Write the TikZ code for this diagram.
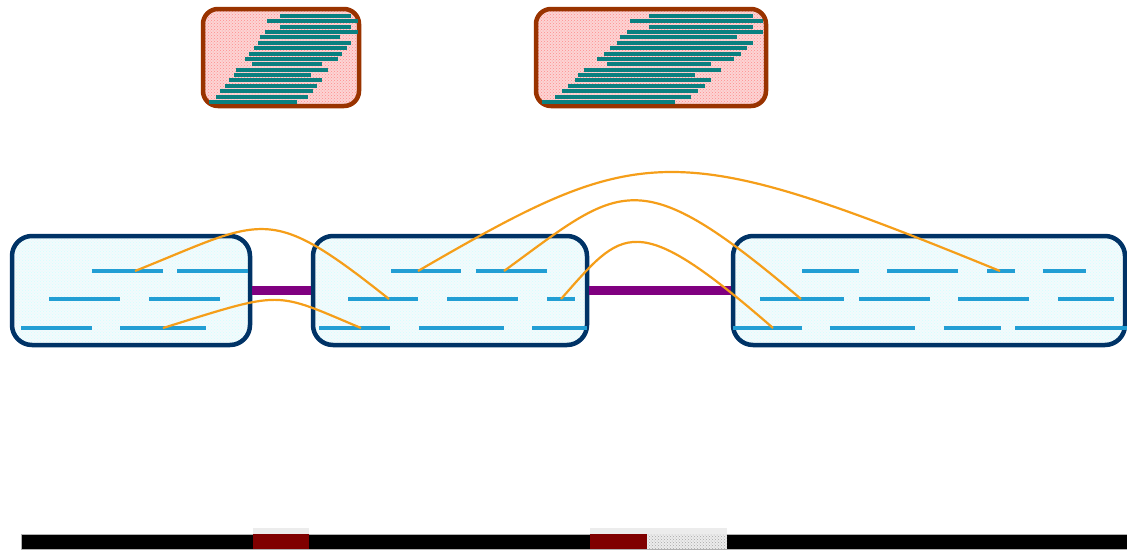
\documentclass[tikz,border=0pt]{standalone}
\usepackage{tikz}
\usetikzlibrary{patterns}

\definecolor{pilebrown}{RGB}{153,51,0}
\definecolor{pilepink}{RGB}{252,212,212}
\definecolor{readteal}{RGB}{10,128,128}
\definecolor{contigblue}{RGB}{0,51,102}
\definecolor{contigfill}{RGB}{243,250,252}
\definecolor{readblue}{RGB}{34,158,212}
\definecolor{linkpurple}{RGB}{128,0,128}
\definecolor{pairorange}{RGB}{245,158,25}
\definecolor{gapred}{RGB}{128,0,0}

\begin{document}
\begin{tikzpicture}[x=1pt,y=-1pt,
    pile/.style={draw=pilebrown, line width=4.5pt, rounded corners=15pt, preaction={fill=pilepink},
      pattern=crosshatch dots, pattern color=red!45, inner sep=0pt},
    contig/.style={draw=contigblue, line width=4.5pt, rounded corners=20pt, preaction={fill=contigfill},
      pattern=crosshatch dots, pattern color=cyan!18, inner sep=0pt},
    pileread/.style={draw=readteal, line width=4pt},
    read/.style={draw=readblue, line width=3.2pt},
    link/.style={draw=linkpurple, line width=9pt},
    pair/.style={draw=pairorange, line width=2.2pt}
  ]
  \useasboundingbox (0,0) rectangle (1127,550);

  % read piles
  \node[pile, minimum width=156pt, minimum height=97pt] (pileA) at (281,57.5) {};
  \node[pile, minimum width=230pt, minimum height=97pt] (pileB) at (651,57.5) {};
  \foreach \a/\b [count=\i] in {280/351,267/358,280/351,265/358,260/340,258/351,254/347,
      249/342,245/338,252/322,236/328,234/311,229/322,225/317,220/313,216/308,209/297}
    \draw[pileread] (\a,10.6+5.375*\i) -- (\b,10.6+5.375*\i);
  \foreach \a/\b [count=\i] in {649/753,630/763,649/753,627/763,620/737,617/753,610/747,
      604/741,597/734,607/711,584/721,578/695,575/711,568/705,562/698,555/691,542/675}
    \draw[pileread] (\a,10.6+5.375*\i) -- (\b,10.6+5.375*\i);

  % contigs
  \node[contig, minimum width=238pt, minimum height=109pt] (ctgA) at (131,290.5) {};
  \node[contig, minimum width=274pt, minimum height=109pt] (ctgB) at (450,290.5) {};
  \node[contig, minimum width=392pt, minimum height=109pt] (ctgC) at (929,290.5) {};

  % scaffold links
  \draw[link] (ctgA.east) -- (ctgB.west);
  \draw[link] (ctgB.east) -- (ctgC.west);

  % reads in the contigs
  \foreach \a/\b/\r in {92/163/271,177/248/271,49/120/299,149/220/299,21/92/328,120/206/328,
      391/461/271,476/547/271,348/418/299,447/518/299,547/575/299,319/390/328,419/504/328,532/587/328,
      802/859/271,887/958/271,987/1015/271,1043/1086/271,760/844/299,859/930/299,958/1029/299,
      1058/1114/299,733/802/328,830/915/328,944/1001/328,1015/1127/328}
    \draw[read] (\a,\r) -- (\b,\r);

  % mate pairs
  \coordinate (pA1) at (135,271);
  \coordinate (pA2) at (163,328);
  \coordinate (pB1) at (389,299);
  \coordinate (pB2) at (361,328);
  \coordinate (pB3) at (418,271);
  \coordinate (pB4) at (504,271);
  \coordinate (pB5) at (561,299);
  \coordinate (pC1) at (1000,271);
  \coordinate (pC2) at (801,299);
  \coordinate (pC3) at (773,328);
  \draw[pair] (pA1) .. controls (265,219) and (267,202) .. (pB1);
  \draw[pair] (pA2) .. controls (285,290) and (273,291) .. (pB2);
  \draw[pair] (pB3) .. controls (642,141) and (672,137) .. (pC1);
  \draw[pair] (pB4) .. controls (622,185) and (636,159) .. (pC2);
  \draw[pair] (pB5) .. controls (623,229) and (634,207) .. (pC3);

  % reference with the gaps
  \fill[gray!15] (253,528) rectangle (309,549);
  \fill[gray!15] (590,528) rectangle (727,549);
  \draw[fill=black, draw=gray!60, line width=1pt] (21,534) rectangle (1127,549);
  \fill[gapred] (253,534) rectangle (309,549);
  \fill[gapred] (590,534) rectangle (647,549);
  \fill[gray!15] (647,534) rectangle (727,549);
  \fill[pattern=crosshatch dots, pattern color=gray!70] (647,534) rectangle (727,549);
\end{tikzpicture}
\end{document}
